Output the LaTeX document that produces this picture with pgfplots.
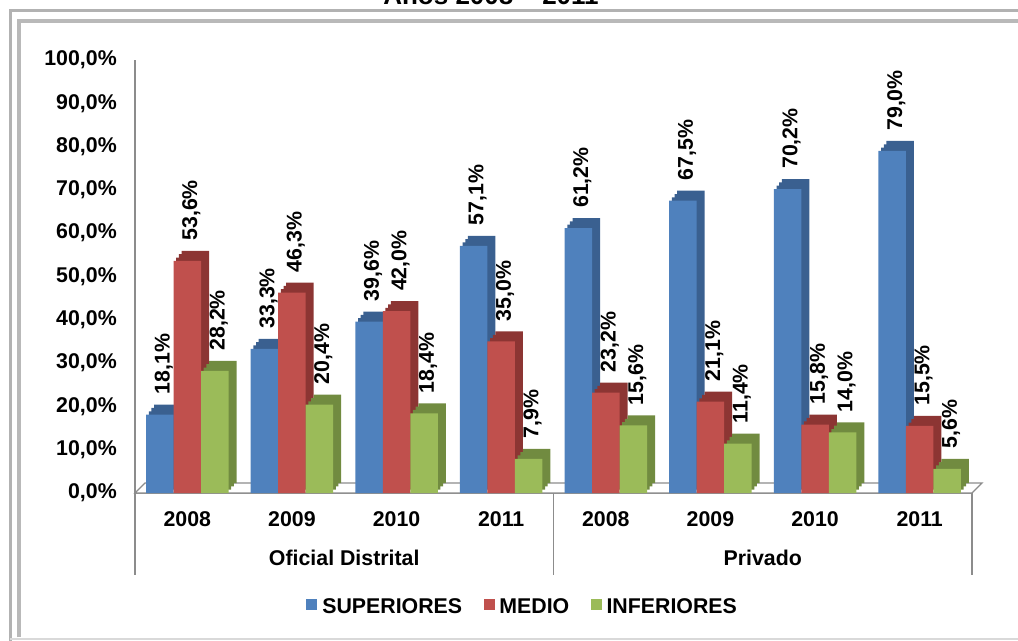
\documentclass[border=0pt]{standalone}
\usepackage{fontspec}
\setmainfont{Liberation Sans}
\usepackage{pgfplots}
\usepackage{pgfplotstable}
\pgfplotsset{compat=1.18}
\definecolor{cB}{HTML}{4F81BD}
\definecolor{cBd}{HTML}{3A6090}
\definecolor{cR}{HTML}{C0504D}
\definecolor{cRd}{HTML}{8C3533}
\definecolor{cG}{HTML}{9BBB59}
\definecolor{cGd}{HTML}{718B40}
\definecolor{axgray}{HTML}{8C8C8C}
\pgfplotstableread{
x   sup  med  inf
0.5 18.1 53.6 28.2
1.5 33.3 46.3 20.4
2.5 39.6 42.0 18.4
3.5 57.1 35.0 7.9
4.5 61.2 23.2 15.6
5.5 67.5 21.1 11.4
6.5 70.2 15.8 14.0
7.5 79.0 15.5 5.6
}\data
\pgfplotsset{
  lbl/.style={nodes near coords={\pgfmathprintnumber[fixed,fixed zerofill,precision=1,use comma,assume math mode=true]{\pgfplotspointmeta}\%},
  every node near coord/.append style={font=\fontsize{16}{19}\selectfont\bfseries, inner sep=0pt, xshift=3pt, yshift=15pt, rotate=90, anchor=west, text=black}},
}
\begin{document}
\begin{tikzpicture}[font=\fontsize{16}{19}\selectfont\bfseries]
\useasboundingbox (0,0) rectangle (763.5pt,480pt);
\clip (0,0) rectangle (763.5pt,480pt);
% frame
\draw[line width=2.25pt, gray!60] (7.5pt,-5pt) -- (7.5pt,472.1pt) -- (800pt,472.1pt);
\draw[line width=3pt, gray!55] (14.6pt,2pt) -- (14.6pt,463.9pt) -- (800pt,463.9pt);
\draw[line width=1.5pt, gray!30] (7.5pt,1.1pt) -- (800pt,1.1pt);
\node[font=\fontsize{19.5}{22}\selectfont\bfseries, anchor=base] at (368.25pt,476.25pt) {Años 2008 – 2011};
\begin{axis}[
  at={(101.25pt,110.25pt)}, anchor=south west,
  scale only axis, width=627.75pt, height=324.75pt,
  xmin=0, xmax=8, ymin=0, ymax=100,
  axis x line*=bottom, axis y line*=left,
  axis line style={axgray, line width=1.2pt},
  xtick={0.5,1.5,2.5,3.5,4.5,5.5,6.5,7.5},
  xticklabels={2008,2009,2010,2011,2008,2009,2010,2011},
  ytick={0,10,...,100},
  major tick length=0pt,
  yticklabel={\pgfmathprintnumber[fixed,fixed zerofill,precision=1,use comma,assume math mode=true]{\tick}\%},
  yticklabel style={inner sep=0pt, xshift=-13.5pt},
  xticklabel style={inner sep=0pt, yshift=-14pt},
  clip=false,
  ybar, bar width=20.6pt,
  legend style={at={(0.4636,-0.263)}, anchor=center, draw=none, fill=none, legend columns=3,
    /tikz/every even column/.append style={column sep=14pt}},
]
\filldraw[fill=white, draw=axgray, line width=1pt] (axis cs:0,0) -- ++(7.5pt,7.5pt) -- ++(627.75pt,0) -- (axis cs:8,0) -- cycle;
\draw[axgray, line width=1.2pt] (axis cs:0,0) -- ++(0,-61.5pt);
\draw[axgray, line width=1.2pt] (axis cs:4,0) -- ++(0,-61.5pt);
\draw[axgray, line width=1.2pt] (axis cs:8,0) -- ++(0,-61.5pt);
\node[anchor=base, yshift=-54pt] at (axis cs:2,0) {Oficial Distrital};
\node[anchor=base, yshift=-54pt] at (axis cs:6,0) {Privado};

% SUPERIORES (depth then front face)
\addplot[fill=cBd, draw=none, bar shift=-18.6pt, yshift=2.5pt, forget plot] table[x=x,y=sup] {\data};
\addplot[fill=cBd, draw=none, bar shift=-16.6pt, yshift=5pt, forget plot] table[x=x,y=sup] {\data};
\addplot[fill=cBd, draw=none, bar shift=-14.6pt, yshift=7.5pt, forget plot] table[x=x,y=sup] {\data};
\addplot[fill=cB, draw=none, bar shift=-20.6pt, forget plot, lbl] table[x=x,y=sup] {\data};
% MEDIO
\addplot[fill=cRd, draw=none, bar shift=2pt, yshift=2.5pt, forget plot] table[x=x,y=med] {\data};
\addplot[fill=cRd, draw=none, bar shift=4pt, yshift=5pt, forget plot] table[x=x,y=med] {\data};
\addplot[fill=cRd, draw=none, bar shift=6pt, yshift=7.5pt, forget plot] table[x=x,y=med] {\data};
\addplot[fill=cR, draw=none, bar shift=0pt, forget plot, lbl] table[x=x,y=med] {\data};
% INFERIORES
\addplot[fill=cGd, draw=none, bar shift=22.6pt, yshift=2.5pt, forget plot] table[x=x,y=inf] {\data};
\addplot[fill=cGd, draw=none, bar shift=24.6pt, yshift=5pt, forget plot] table[x=x,y=inf] {\data};
\addplot[fill=cGd, draw=none, bar shift=26.6pt, yshift=7.5pt, forget plot] table[x=x,y=inf] {\data};
\addplot[fill=cG, draw=none, bar shift=20.6pt, forget plot, lbl] table[x=x,y=inf] {\data};

\addlegendimage{legend image code/.code={\fill[cB] (0pt,-2pt) rectangle (7.5pt,5.5pt); \path (9.5pt,0pt);}}
\addlegendentry{SUPERIORES}
\addlegendimage{legend image code/.code={\fill[cR] (0pt,-2pt) rectangle (7.5pt,5.5pt); \path (9.5pt,0pt);}}
\addlegendentry{MEDIO}
\addlegendimage{legend image code/.code={\fill[cG] (0pt,-2pt) rectangle (7.5pt,5.5pt); \path (9.5pt,0pt);}}
\addlegendentry{INFERIORES}
\end{axis}
\end{tikzpicture}
\end{document}
